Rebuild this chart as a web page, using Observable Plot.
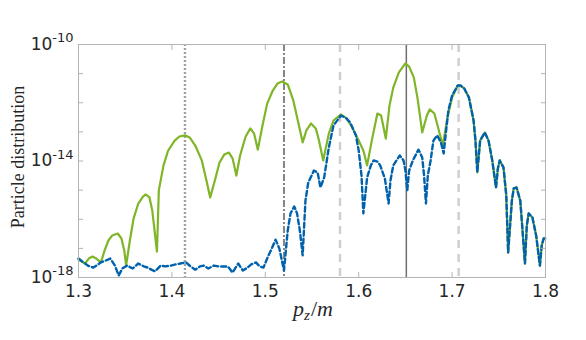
<!DOCTYPE html>
<html><head><meta charset="utf-8">
<script src="https://cdn.jsdelivr.net/npm/d3@7"></script>
<script src="https://cdn.jsdelivr.net/npm/@observablehq/plot@0.6"></script>
<style>body{margin:0;background:#fff}</style>
</head><body><div id="chart"></div>
<script>
// Green (solid) series: p_z/m and log10 of the particle distribution
const greenX = [1.300,1.307,1.311,1.315,1.319,1.324,1.328,1.332,1.336,1.342,1.346,1.349,1.351,1.355,1.359,1.364,1.369,1.372,1.376,1.379,1.384,1.386,1.391,1.396,1.403,1.408,1.414,1.419,1.425,1.432,1.437,1.441,1.446,1.451,1.456,1.461,1.465,1.469,1.473,1.479,1.484,1.488,1.492,1.497,1.502,1.508,1.513,1.518,1.524,1.530,1.536,1.540,1.544,1.549,1.554,1.557,1.562,1.568,1.573,1.581,1.587,1.593,1.600,1.605,1.609,1.614,1.620,1.624,1.629,1.633,1.637,1.643,1.650,1.654,1.659,1.663,1.668,1.673,1.676,1.681,1.685,1.690,1.695,1.700,1.706];
const greenLog10 = [-17.38,-17.52,-17.35,-17.28,-17.35,-17.48,-17.07,-16.73,-16.56,-16.49,-16.66,-17.07,-17.59,-16.73,-15.97,-15.46,-15.22,-15.15,-15.25,-15.70,-17.11,-15.01,-14.15,-13.64,-13.30,-13.16,-13.12,-13.19,-13.47,-13.98,-14.67,-15.25,-14.67,-14.05,-13.78,-13.71,-13.91,-14.50,-13.81,-13.16,-12.88,-13.06,-13.61,-12.78,-12.03,-11.58,-11.34,-11.27,-11.37,-11.92,-12.78,-13.36,-12.95,-12.71,-12.88,-13.23,-13.98,-13.06,-12.61,-12.40,-12.54,-12.85,-13.30,-13.64,-14.15,-13.30,-12.37,-12.44,-13.23,-12.09,-11.48,-10.96,-10.65,-10.76,-11.13,-11.85,-13.02,-12.44,-12.23,-12.37,-12.85,-13.47,-12.51,-11.82,-11.41];
// Blue (dashed) series
const blueX = [1.300,1.304,1.310,1.316,1.324,1.329,1.334,1.339,1.343,1.347,1.352,1.358,1.364,1.370,1.374,1.378,1.382,1.388,1.393,1.399,1.404,1.409,1.415,1.420,1.425,1.430,1.434,1.439,1.445,1.450,1.454,1.460,1.465,1.471,1.476,1.481,1.485,1.490,1.494,1.498,1.502,1.507,1.511,1.515,1.520,1.524,1.527,1.531,1.534,1.537,1.540,1.543,1.546,1.552,1.556,1.559,1.563,1.568,1.573,1.581,1.586,1.591,1.597,1.600,1.603,1.605,1.609,1.613,1.616,1.620,1.623,1.628,1.632,1.634,1.637,1.644,1.648,1.650,1.652,1.654,1.658,1.664,1.668,1.670,1.672,1.674,1.677,1.680,1.684,1.688,1.691,1.693,1.696,1.700,1.706];
const blueLog10 = [-17.35,-17.45,-17.59,-17.66,-17.48,-17.42,-17.35,-17.59,-17.93,-17.69,-17.59,-17.69,-17.52,-17.62,-17.66,-17.73,-17.79,-17.59,-17.62,-17.59,-17.55,-17.52,-17.48,-17.62,-17.73,-17.62,-17.59,-17.69,-17.59,-17.62,-17.62,-17.62,-17.83,-17.52,-17.76,-17.66,-17.55,-17.48,-17.62,-17.66,-17.35,-17.00,-16.70,-17.00,-17.76,-16.39,-15.80,-15.56,-15.80,-16.39,-17.24,-15.36,-14.74,-14.33,-14.39,-14.91,-14.57,-13.54,-12.78,-12.44,-12.51,-12.68,-13.12,-13.64,-14.50,-15.80,-14.57,-14.15,-13.98,-14.02,-14.15,-14.60,-15.46,-14.67,-14.15,-13.81,-13.98,-14.33,-15.01,-14.33,-13.98,-13.61,-13.88,-14.50,-15.46,-14.50,-13.98,-13.30,-13.12,-13.36,-13.74,-13.12,-12.27,-11.75,-11.41];
// Common tail where both series coincide
const tailX = [1.709,1.713,1.718,1.723,1.725,1.727,1.730,1.735,1.739,1.743,1.747,1.749,1.751,1.755,1.758,1.760,1.764,1.766,1.769,1.773,1.775,1.778,1.780,1.782,1.786,1.790,1.794,1.796,1.798,1.800];
const tailLog10 = [-11.41,-11.51,-11.82,-12.61,-13.30,-14.39,-13.30,-13.02,-13.30,-13.98,-14.91,-14.26,-13.98,-14.22,-15.18,-17.14,-15.36,-14.94,-14.91,-15.36,-16.21,-17.52,-16.21,-15.80,-15.94,-16.56,-17.59,-16.90,-16.66,-16.66];

// Reference vertical lines
const dottedLines = [1.414];
const dashDotLines = [1.52];
const lightDashedLines = [1.58, 1.707];
const solidLines = [1.651];

const xTicks = [1.3, 1.4, 1.5, 1.6, 1.7, 1.8];
const yLabelTicks = [1e-18, 1e-14, 1e-10];
const yMinorTicks = [1e-18, 1e-17, 1e-16, 1e-15, 1e-14, 1e-13, 1e-12, 1e-11, 1e-10];

const toPts = (xs, ls) => xs.map((x, i) => ({x, y: Math.pow(10, ls[i])}));
const tail = toPts(tailX, tailLog10);
const green = toPts(greenX, greenLog10).concat(tail);
const blue = toPts(blueX, blueLog10).concat(tail);

const axisCol = "#b4b4b4";
const plot = Plot.plot({
  width: 586, height: 340,
  marginLeft: 78, marginRight: 41, marginTop: 44, marginBottom: 63,
  style: {fontFamily: "DejaVu Sans", fontSize: "17px", color: "#262626", background: "white"},
  x: {domain: [1.3, 1.8]},
  y: {type: "log", domain: [1e-18, 1e-10]},
  marks: [
    Plot.ruleX(dottedLines, {stroke: "#a0a0a0", strokeWidth: 2.4, strokeDasharray: "2,2"}),
    Plot.ruleX(dashDotLines, {stroke: "#858585", strokeWidth: 2, strokeDasharray: "7,2,2,2"}),
    Plot.ruleX(lightDashedLines, {stroke: "#cfcfcf", strokeWidth: 2.5, strokeDasharray: "8,6"}),
    Plot.ruleX(solidLines, {stroke: "#6e6e6e", strokeWidth: 1.5}),
    Plot.line(green, {x: "x", y: "y", stroke: "#7fb527", strokeWidth: 2.2}),
    Plot.line(blue, {x: "x", y: "y", stroke: "#0062ad", strokeWidth: 2.4, strokeDasharray: "5,3"}),
    Plot.frame({stroke: axisCol}),
    Plot.axisX({ticks: xTicks, anchor: "bottom", tickSize: -5, stroke: axisCol, tickFormat: () => "", label: null}),
    Plot.axisX({ticks: xTicks, anchor: "top", tickSize: -5, stroke: axisCol, tickFormat: () => "", label: null}),
    Plot.axisY({ticks: yMinorTicks, anchor: "left", tickSize: -5, stroke: axisCol, tickFormat: () => "", label: null}),
    Plot.axisY({ticks: yMinorTicks, anchor: "right", tickSize: -5, stroke: axisCol, tickFormat: () => "", label: null}),
    Plot.axisX({ticks: xTicks, anchor: "bottom", tickSize: 0, tickPadding: 7, tickFormat: d => d.toFixed(1), label: null, fill: "#262626"}),
    Plot.axisY({ticks: yLabelTicks, anchor: "left", tickSize: 0, tickPadding: 5, tickFormat: d => "10|" + Math.round(Math.log10(d)), label: null, fill: "#262626"})
  ]
});
document.getElementById("chart").appendChild(plot);

const svg = d3.select(plot);
// superscript exponents on y labels
svg.selectAll("text").each(function() {
  const t = d3.select(this);
  const s = t.text();
  if (s.includes("|")) {
    const [base, exp] = s.split("|");
    t.text(null);
    t.append("tspan").text(base);
    t.append("tspan").attr("font-size", "13px").attr("dy", "-0.6em").text(exp);
  }
});
// axis titles
svg.append("text")
  .attr("transform", "translate(24,157) rotate(-90)")
  .attr("text-anchor", "middle")
  .attr("font-family", "Liberation Serif")
  .attr("font-size", "18px")
  .attr("fill", "#262626")
  .text("Particle distribution");
const xl = svg.append("text")
  .attr("x", 313).attr("y", 316)
  .attr("text-anchor", "middle")
  .attr("font-family", "Liberation Serif")
  .attr("font-size", "22px")
  .attr("fill", "#262626");
xl.append("tspan").attr("font-style", "italic").text("p");
xl.append("tspan").attr("font-style", "italic").attr("font-size", "15px").attr("dy", "4").text("z");
xl.append("tspan").attr("dy", "-4").attr("dx", "1").text("/");
xl.append("tspan").attr("font-style", "italic").text("m");
</script>
</body></html>
